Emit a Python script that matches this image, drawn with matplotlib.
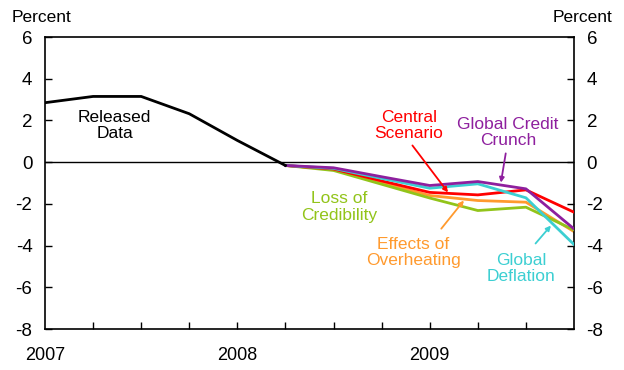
import matplotlib
matplotlib.use("Agg")
import matplotlib.pyplot as plt

plt.rcParams['font.family'] = ['Liberation Sans', 'DejaVu Sans']

# quarter index: 0 = 2007 Q1 ... 11 = 2009 Q4
released_x = [0, 1, 2, 3, 4, 5]
released = [2.85, 3.15, 3.15, 2.32, 1.04, -0.16]

scen_x = [5, 6, 7, 8, 9, 10, 11]
central = [-0.16, -0.33, -0.90, -1.45, -1.57, -1.33, -2.40]
credit_crunch = [-0.16, -0.27, -0.70, -1.12, -0.93, -1.28, -3.20]
deflation = [-0.16, -0.30, -0.78, -1.25, -1.04, -1.71, -3.95]
overheating = [-0.16, -0.35, -0.98, -1.60, -1.84, -1.92, -3.33]
credibility = [-0.16, -0.40, -1.06, -1.72, -2.32, -2.16, -3.25]

year_ticks = [0, 4, 8]
year_labels = ['2007', '2008', '2009']
y_ticks = [-8, -6, -4, -2, 0, 2, 4, 6]

RED = '#FF0000'
PURPLE = '#8E1F9E'
CYAN = '#3CCFD2'
ORANGE = '#FF9A2E'
GREEN = '#92C41A'

fig = plt.figure(figsize=(6.24, 3.70), dpi=100)
ax = fig.add_axes([0.0721, 0.1108, 0.8478, 0.7892])
ax.set_xlim(0, 11)
ax.set_ylim(-8, 6)

ax.axhline(0, color='black', lw=1.0, zorder=1)

lw = 2.0
ax.plot(scen_x, overheating, color=ORANGE, lw=lw, zorder=2)
ax.plot(scen_x, credibility, color=GREEN, lw=lw, zorder=3)
ax.plot(scen_x, central, color=RED, lw=lw, zorder=4)
ax.plot(scen_x, deflation, color=CYAN, lw=lw, zorder=5)
ax.plot(scen_x, credit_crunch, color=PURPLE, lw=lw, zorder=6)
ax.plot(released_x, released, color='black', lw=lw, zorder=7)

fs = 12.5
ax.text(1.45, 1.75, 'Released\nData', color='black', ha='center', va='center', fontsize=fs, linespacing=1.1)
ax.text(7.57, 1.74, 'Central\nScenario', color=RED, ha='center', va='center', fontsize=fs, linespacing=1.1)
ax.text(9.63, 1.43, 'Global Credit\nCrunch', color=PURPLE, ha='center', va='center', fontsize=fs, linespacing=1.1)
ax.text(6.12, -2.15, 'Loss of\nCredibility', color=GREEN, ha='center', va='center', fontsize=fs, linespacing=1.1)
ax.text(7.66, -4.34, 'Effects of\nOverheating', color=ORANGE, ha='center', va='center', fontsize=fs, linespacing=1.1)
ax.text(9.9, -5.08, 'Global\nDeflation', color=CYAN, ha='center', va='center', fontsize=fs, linespacing=1.1)

def arrow(x0, y0, x1, y1, c):
    ax.annotate('', xy=(x1, y1), xytext=(x0, y0),
                arrowprops=dict(arrowstyle='-|>', color=c, lw=1.3,
                                mutation_scale=7, shrinkA=0, shrinkB=0), zorder=8)

arrow(7.64, 0.8, 8.38, -1.45, RED)
arrow(9.58, 0.42, 9.48, -0.98, PURPLE)
arrow(8.24, -3.19, 8.71, -1.84, ORANGE)
arrow(10.2, -3.9, 10.52, -3.04, CYAN)

ax.set_yticks(y_ticks)
ax.set_yticklabels([str(v) for v in y_ticks])
ax.set_xticks(list(range(1, 11)))
ax.set_xticklabels([])
ax.tick_params(axis='x', direction='in', length=5, width=1, bottom=True)
ax.tick_params(axis='y', direction='in', length=5, width=1, left=True, right=True,
               labelleft=True, labelright=True, labelsize=13.5, pad=9)
for s in ax.spines.values():
    s.set_linewidth(1.2)

for xv, lab in zip(year_ticks, year_labels):
    ax.text(xv, -9.25, lab, ha='center', va='center', fontsize=13,
            transform=ax.transData)

fig.text(12/624, 1 - 17/370, 'Percent', ha='left', va='center', fontsize=12.5)
fig.text(612/624, 1 - 17/370, 'Percent', ha='right', va='center', fontsize=12.5)

fig.savefig('out.png', dpi=100)
